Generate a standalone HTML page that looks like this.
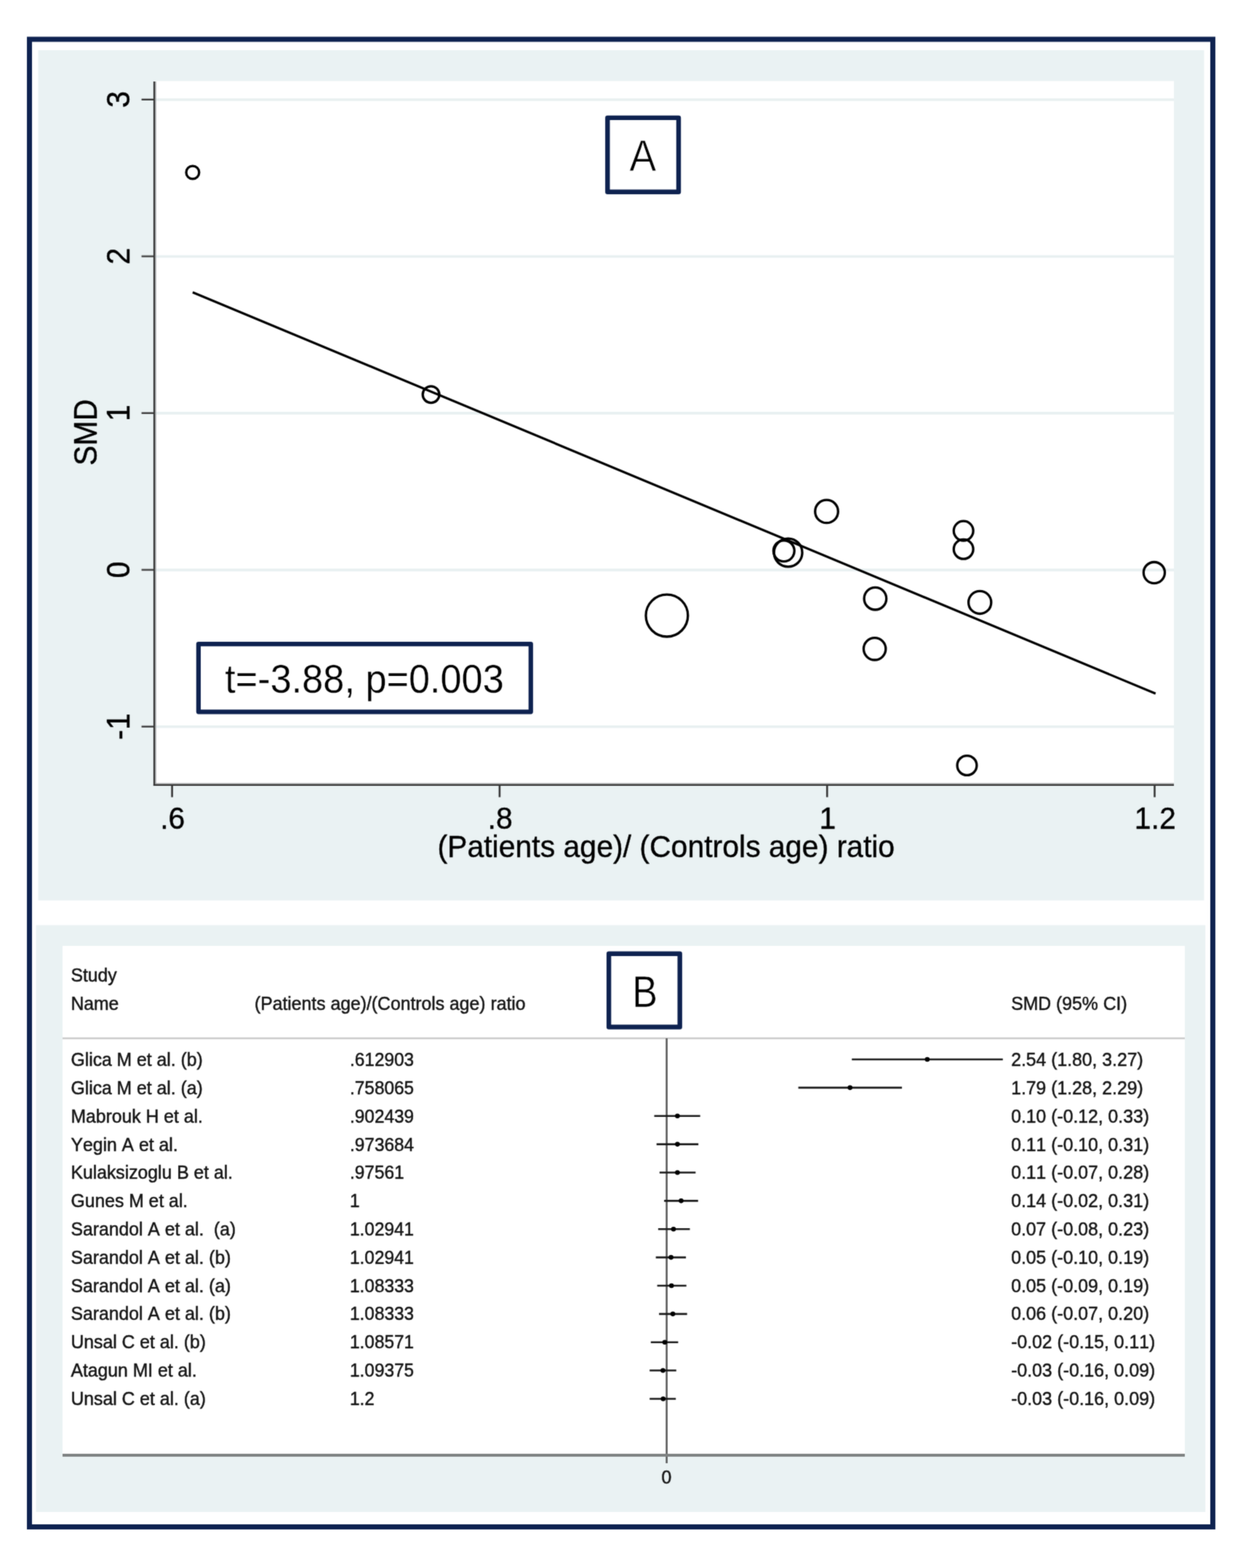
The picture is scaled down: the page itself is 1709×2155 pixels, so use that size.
<!DOCTYPE html>
<html lang="en"><head><meta charset="utf-8"><title>Meta-regression and forest plot</title>
<style>html,body{margin:0;padding:0;background:#fff;}body{width:1709px;height:2155px;overflow:hidden;}svg{display:block;}text{font-family:'Liberation Sans', Arial, Helvetica, sans-serif;font-kerning:none;white-space:pre;}</style>
</head><body>
<svg width="1709" height="2155" viewBox="0 0 1709 2155" role="img" aria-label="Meta-regression bubble plot (A) and forest plot (B)">
<defs><filter id="soft" x="0" y="0" width="1709" height="2155" filterUnits="userSpaceOnUse" color-interpolation-filters="sRGB"><feConvolveMatrix order="3" kernelMatrix="0.0256 0.1088 0.0256 0.1088 0.4624 0.1088 0.0256 0.1088 0.0256" divisor="1" edgeMode="duplicate" preserveAlpha="true"/></filter></defs>
<g filter="url(#soft)">
<rect x="0.00" y="0.00" width="1709.00" height="2155.00" fill="#ffffff"/>
<rect x="40.50" y="54.00" width="1627.00" height="2044.50" fill="#ffffff" stroke="#0e2250" stroke-width="7.00"/>
<g id="panelA">
<rect x="52.50" y="69.00" width="1603.00" height="1168.50" fill="#eaf2f3"/>
<rect x="212.30" y="111.40" width="1401.70" height="966.60" fill="#ffffff"/>
<line x1="212.30" y1="137.00" x2="1614.00" y2="137.00" stroke="#e8f0f1" stroke-width="3.60"/>
<line x1="212.30" y1="352.45" x2="1614.00" y2="352.45" stroke="#e8f0f1" stroke-width="3.60"/>
<line x1="212.30" y1="567.90" x2="1614.00" y2="567.90" stroke="#e8f0f1" stroke-width="3.60"/>
<line x1="212.30" y1="783.35" x2="1614.00" y2="783.35" stroke="#e8f0f1" stroke-width="3.60"/>
<line x1="212.30" y1="998.80" x2="1614.00" y2="998.80" stroke="#e8f0f1" stroke-width="3.60"/>
<line x1="264.90" y1="401.70" x2="1588.80" y2="953.30" stroke="#000" stroke-width="3.20"/>
<circle cx="264.9" cy="237.0" r="8.9" fill="none" stroke="#000" stroke-width="3.3"/>
<circle cx="592.6" cy="542.2" r="11.4" fill="none" stroke="#000" stroke-width="3.3"/>
<circle cx="916.9" cy="846.1" r="28.9" fill="none" stroke="#000" stroke-width="3.3"/>
<circle cx="1077.8" cy="757.2" r="14.4" fill="none" stroke="#000" stroke-width="3.3"/>
<circle cx="1083.6" cy="759.5" r="19.4" fill="none" stroke="#000" stroke-width="3.3"/>
<circle cx="1136.5" cy="702.9" r="15.8" fill="none" stroke="#000" stroke-width="3.3"/>
<circle cx="1324.7" cy="729.6" r="13.4" fill="none" stroke="#000" stroke-width="3.3"/>
<circle cx="1324.7" cy="754.8" r="13.4" fill="none" stroke="#000" stroke-width="3.3"/>
<circle cx="1203.4" cy="822.7" r="15.3" fill="none" stroke="#000" stroke-width="3.3"/>
<circle cx="1347.2" cy="827.9" r="15.6" fill="none" stroke="#000" stroke-width="3.3"/>
<circle cx="1202.6" cy="891.8" r="15.2" fill="none" stroke="#000" stroke-width="3.3"/>
<circle cx="1586.9" cy="787.1" r="14.6" fill="none" stroke="#000" stroke-width="3.3"/>
<circle cx="1329.5" cy="1052.0" r="13.4" fill="none" stroke="#000" stroke-width="3.3"/>
<line x1="213.90" y1="112.00" x2="213.90" y2="1077.80" stroke="#a4a7a8" stroke-width="1.70"/>
<line x1="213.00" y1="1077.00" x2="1614.00" y2="1077.00" stroke="#a4a7a8" stroke-width="1.70"/>
<line x1="212.00" y1="112.00" x2="212.00" y2="1080.00" stroke="#363636" stroke-width="2.20"/>
<line x1="210.90" y1="1078.90" x2="1614.00" y2="1078.90" stroke="#363636" stroke-width="2.20"/>
<line x1="194.60" y1="135.70" x2="211.00" y2="135.70" stroke="#a4a7a8" stroke-width="1.20"/>
<line x1="194.60" y1="137.00" x2="211.00" y2="137.00" stroke="#363636" stroke-width="2.00"/>
<line x1="194.60" y1="351.15" x2="211.00" y2="351.15" stroke="#a4a7a8" stroke-width="1.20"/>
<line x1="194.60" y1="352.45" x2="211.00" y2="352.45" stroke="#363636" stroke-width="2.00"/>
<line x1="194.60" y1="566.60" x2="211.00" y2="566.60" stroke="#a4a7a8" stroke-width="1.20"/>
<line x1="194.60" y1="567.90" x2="211.00" y2="567.90" stroke="#363636" stroke-width="2.00"/>
<line x1="194.60" y1="782.05" x2="211.00" y2="782.05" stroke="#a4a7a8" stroke-width="1.20"/>
<line x1="194.60" y1="783.35" x2="211.00" y2="783.35" stroke="#363636" stroke-width="2.00"/>
<line x1="194.60" y1="997.50" x2="211.00" y2="997.50" stroke="#a4a7a8" stroke-width="1.20"/>
<line x1="194.60" y1="998.80" x2="211.00" y2="998.80" stroke="#363636" stroke-width="2.00"/>
<line x1="236.60" y1="1079.50" x2="236.60" y2="1095.60" stroke="#363636" stroke-width="2.60"/>
<line x1="686.90" y1="1079.50" x2="686.90" y2="1095.60" stroke="#363636" stroke-width="2.60"/>
<line x1="1137.20" y1="1079.50" x2="1137.20" y2="1095.60" stroke="#363636" stroke-width="2.60"/>
<line x1="1587.50" y1="1079.50" x2="1587.50" y2="1095.60" stroke="#363636" stroke-width="2.60"/>
<g stroke="#000" stroke-width="0.4">
<text transform="translate(178.40 136.70) rotate(-90) scale(1.0000 1.0650)" font-size="41.00" text-anchor="middle" fill="#000" xml:space="preserve">3</text>
<text transform="translate(178.40 352.15) rotate(-90) scale(1.0000 1.0650)" font-size="41.00" text-anchor="middle" fill="#000" xml:space="preserve">2</text>
<text transform="translate(178.40 567.60) rotate(-90) scale(1.0000 1.0650)" font-size="41.00" text-anchor="middle" fill="#000" xml:space="preserve">1</text>
<text transform="translate(178.40 783.05) rotate(-90) scale(1.0000 1.0650)" font-size="41.00" text-anchor="middle" fill="#000" xml:space="preserve">0</text>
<text transform="translate(178.40 998.50) rotate(-90) scale(1.0000 1.0650)" font-size="41.00" text-anchor="middle" fill="#000" xml:space="preserve">-1</text>
<text transform="translate(133.30 594.20) rotate(-90) scale(1.0000 1.0650)" font-size="41.00" text-anchor="middle" fill="#000" xml:space="preserve">SMD</text>
<text transform="translate(237.30 1139.20) scale(1.0000 1.0400)" font-size="41.00" text-anchor="middle" fill="#000" xml:space="preserve">.6</text>
<text transform="translate(687.60 1139.20) scale(1.0000 1.0400)" font-size="41.00" text-anchor="middle" fill="#000" xml:space="preserve">.8</text>
<text transform="translate(1137.90 1139.20) scale(1.0000 1.0400)" font-size="41.00" text-anchor="middle" fill="#000" xml:space="preserve">1</text>
<text transform="translate(1588.20 1139.20) scale(1.0000 1.0400)" font-size="41.00" text-anchor="middle" fill="#000" xml:space="preserve">1.2</text>
<text transform="translate(915.80 1178.30) scale(1.0000 1.0400)" font-size="41.00" text-anchor="middle" fill="#000" xml:space="preserve">(Patients age)/ (Controls age) ratio</text>
</g>
<rect x="835.30" y="161.90" width="97.70" height="101.80" fill="#fff" stroke="#0e2250" stroke-width="6.40" stroke-linejoin="round"/>
<text transform="translate(883.80 234.90) scale(0.9600 1.0550)" font-size="58.00" text-anchor="middle" fill="#000" stroke="#fff" stroke-width="0.9" xml:space="preserve">A</text>
<rect x="272.90" y="885.10" width="456.90" height="93.20" fill="#fff" stroke="#0e2250" stroke-width="6.20" stroke-linejoin="round"/>
<text transform="translate(501.00 952.30) scale(0.9500 1.0000)" font-size="55.00" text-anchor="middle" fill="#000" stroke="#fff" stroke-width="0.3" xml:space="preserve">t=-3.88, p=0.003</text>
</g>
<g id="panelB" stroke="#141414" stroke-width="0.5">
<rect x="49.50" y="1271.50" width="1607.80" height="806.50" fill="#eaf2f3" stroke="none"/>
<rect x="86.00" y="1300.00" width="1543.00" height="700.00" fill="#ffffff" stroke="none"/>
<line x1="86.00" y1="1427.00" x2="1629.00" y2="1427.00" stroke="#cbcbcb" stroke-width="2.60"/>
<line x1="916.60" y1="1427.00" x2="916.60" y2="2011.00" stroke="#555555" stroke-width="2.50"/>
<line x1="86.00" y1="2000.10" x2="1629.00" y2="2000.10" stroke="#7f8282" stroke-width="4.00"/>
<text transform="translate(916.40 2039.20) scale(1.0000 1.0450)" font-size="24.75" text-anchor="middle" fill="#141414" xml:space="preserve">0</text>
<text transform="translate(97.40 1349.30) scale(1.0000 1.0450)" font-size="24.75" fill="#141414" xml:space="preserve">Study</text>
<text transform="translate(97.40 1388.20) scale(1.0000 1.0450)" font-size="24.75" fill="#141414" xml:space="preserve">Name</text>
<text transform="translate(350.00 1388.20) scale(1.0000 1.0450)" font-size="24.75" fill="#141414" xml:space="preserve">(Patients age)/(Controls age) ratio</text>
<text transform="translate(1390.20 1387.70) scale(1.0000 1.0450)" font-size="24.75" fill="#141414" xml:space="preserve">SMD (95% CI)</text>
<text transform="translate(97.40 1465.30) scale(1.0000 1.0450)" font-size="24.75" fill="#141414" xml:space="preserve">Glica M et al. (b)</text>
<text transform="translate(481.00 1465.30) scale(0.9850 1.0450)" font-size="24.75" fill="#141414" xml:space="preserve">.612903</text>
<text transform="translate(1390.20 1465.30) scale(1.0000 1.0450)" font-size="24.75" fill="#141414" xml:space="preserve">2.54 (1.80, 3.27)</text>
<line x1="1171.20" y1="1456.00" x2="1378.80" y2="1456.00" stroke="#1a1a1a" stroke-width="2.60"/>
<circle cx="1274.9" cy="1456.00" r="3.3" fill="#000" stroke="none"/>
<text transform="translate(97.40 1504.09) scale(1.0000 1.0450)" font-size="24.75" fill="#141414" xml:space="preserve">Glica M et al. (a)</text>
<text transform="translate(481.00 1504.09) scale(0.9850 1.0450)" font-size="24.75" fill="#141414" xml:space="preserve">.758065</text>
<text transform="translate(1390.20 1504.09) scale(1.0000 1.0450)" font-size="24.75" fill="#141414" xml:space="preserve">1.79 (1.28, 2.29)</text>
<line x1="1097.60" y1="1494.87" x2="1240.10" y2="1494.87" stroke="#1a1a1a" stroke-width="2.60"/>
<circle cx="1168.7" cy="1494.87" r="3.3" fill="#000" stroke="none"/>
<text transform="translate(97.40 1542.88) scale(1.0000 1.0450)" font-size="24.75" fill="#141414" xml:space="preserve">Mabrouk H et al.</text>
<text transform="translate(481.00 1542.88) scale(0.9850 1.0450)" font-size="24.75" fill="#141414" xml:space="preserve">.902439</text>
<text transform="translate(1390.20 1542.88) scale(1.0000 1.0450)" font-size="24.75" fill="#141414" xml:space="preserve">0.10 (-0.12, 0.33)</text>
<line x1="899.50" y1="1533.74" x2="962.70" y2="1533.74" stroke="#1a1a1a" stroke-width="2.60"/>
<circle cx="931.4" cy="1533.74" r="3.3" fill="#000" stroke="none"/>
<text transform="translate(97.40 1581.67) scale(1.0000 1.0450)" font-size="24.75" fill="#141414" xml:space="preserve">Yegin A et al.</text>
<text transform="translate(481.00 1581.67) scale(0.9850 1.0450)" font-size="24.75" fill="#141414" xml:space="preserve">.973684</text>
<text transform="translate(1390.20 1581.67) scale(1.0000 1.0450)" font-size="24.75" fill="#141414" xml:space="preserve">0.11 (-0.10, 0.31)</text>
<line x1="902.70" y1="1572.61" x2="960.20" y2="1572.61" stroke="#1a1a1a" stroke-width="2.60"/>
<circle cx="931.4" cy="1572.61" r="3.3" fill="#000" stroke="none"/>
<text transform="translate(97.40 1620.46) scale(1.0000 1.0450)" font-size="24.75" fill="#141414" xml:space="preserve">Kulaksizoglu B et al.</text>
<text transform="translate(481.00 1620.46) scale(0.9850 1.0450)" font-size="24.75" fill="#141414" xml:space="preserve">.97561</text>
<text transform="translate(1390.20 1620.46) scale(1.0000 1.0450)" font-size="24.75" fill="#141414" xml:space="preserve">0.11 (-0.07, 0.28)</text>
<line x1="906.80" y1="1611.48" x2="956.40" y2="1611.48" stroke="#1a1a1a" stroke-width="2.60"/>
<circle cx="931.4" cy="1611.48" r="3.3" fill="#000" stroke="none"/>
<text transform="translate(97.40 1659.25) scale(1.0000 1.0450)" font-size="24.75" fill="#141414" xml:space="preserve">Gunes M et al.</text>
<text transform="translate(481.00 1659.25) scale(0.9850 1.0450)" font-size="24.75" fill="#141414" xml:space="preserve">1</text>
<text transform="translate(1390.20 1659.25) scale(1.0000 1.0450)" font-size="24.75" fill="#141414" xml:space="preserve">0.14 (-0.02, 0.31)</text>
<line x1="913.10" y1="1650.35" x2="959.80" y2="1650.35" stroke="#1a1a1a" stroke-width="2.60"/>
<circle cx="936.5" cy="1650.35" r="3.3" fill="#000" stroke="none"/>
<text transform="translate(97.40 1698.04) scale(1.0000 1.0450)" font-size="24.75" fill="#141414" xml:space="preserve">Sarandol A et al.  (a)</text>
<text transform="translate(481.00 1698.04) scale(0.9850 1.0450)" font-size="24.75" fill="#141414" xml:space="preserve">1.02941</text>
<text transform="translate(1390.20 1698.04) scale(1.0000 1.0450)" font-size="24.75" fill="#141414" xml:space="preserve">0.07 (-0.08, 0.23)</text>
<line x1="904.90" y1="1689.22" x2="948.50" y2="1689.22" stroke="#1a1a1a" stroke-width="2.60"/>
<circle cx="926.0" cy="1689.22" r="3.3" fill="#000" stroke="none"/>
<text transform="translate(97.40 1736.83) scale(1.0000 1.0450)" font-size="24.75" fill="#141414" xml:space="preserve">Sarandol A et al. (b)</text>
<text transform="translate(481.00 1736.83) scale(0.9850 1.0450)" font-size="24.75" fill="#141414" xml:space="preserve">1.02941</text>
<text transform="translate(1390.20 1736.83) scale(1.0000 1.0450)" font-size="24.75" fill="#141414" xml:space="preserve">0.05 (-0.10, 0.19)</text>
<line x1="901.70" y1="1728.09" x2="943.10" y2="1728.09" stroke="#1a1a1a" stroke-width="2.60"/>
<circle cx="922.6" cy="1728.09" r="3.3" fill="#000" stroke="none"/>
<text transform="translate(97.40 1775.62) scale(1.0000 1.0450)" font-size="24.75" fill="#141414" xml:space="preserve">Sarandol A et al. (a)</text>
<text transform="translate(481.00 1775.62) scale(0.9850 1.0450)" font-size="24.75" fill="#141414" xml:space="preserve">1.08333</text>
<text transform="translate(1390.20 1775.62) scale(1.0000 1.0450)" font-size="24.75" fill="#141414" xml:space="preserve">0.05 (-0.09, 0.19)</text>
<line x1="903.60" y1="1766.96" x2="943.70" y2="1766.96" stroke="#1a1a1a" stroke-width="2.60"/>
<circle cx="923.2" cy="1766.96" r="3.3" fill="#000" stroke="none"/>
<text transform="translate(97.40 1814.41) scale(1.0000 1.0450)" font-size="24.75" fill="#141414" xml:space="preserve">Sarandol A et al. (b)</text>
<text transform="translate(481.00 1814.41) scale(0.9850 1.0450)" font-size="24.75" fill="#141414" xml:space="preserve">1.08333</text>
<text transform="translate(1390.20 1814.41) scale(1.0000 1.0450)" font-size="24.75" fill="#141414" xml:space="preserve">0.06 (-0.07, 0.20)</text>
<line x1="906.10" y1="1805.83" x2="944.70" y2="1805.83" stroke="#1a1a1a" stroke-width="2.60"/>
<circle cx="925.1" cy="1805.83" r="3.3" fill="#000" stroke="none"/>
<text transform="translate(97.40 1853.20) scale(1.0000 1.0450)" font-size="24.75" fill="#141414" xml:space="preserve">Unsal C et al. (b)</text>
<text transform="translate(481.00 1853.20) scale(0.9850 1.0450)" font-size="24.75" fill="#141414" xml:space="preserve">1.08571</text>
<text transform="translate(1390.20 1853.20) scale(1.0000 1.0450)" font-size="24.75" fill="#141414" xml:space="preserve">-0.02 (-0.15, 0.11)</text>
<line x1="894.80" y1="1844.70" x2="932.40" y2="1844.70" stroke="#1a1a1a" stroke-width="2.60"/>
<circle cx="914.0" cy="1844.70" r="3.3" fill="#000" stroke="none"/>
<text transform="translate(97.40 1891.99) scale(1.0000 1.0450)" font-size="24.75" fill="#141414" xml:space="preserve">Atagun MI et al.</text>
<text transform="translate(481.00 1891.99) scale(0.9850 1.0450)" font-size="24.75" fill="#141414" xml:space="preserve">1.09375</text>
<text transform="translate(1390.20 1891.99) scale(1.0000 1.0450)" font-size="24.75" fill="#141414" xml:space="preserve">-0.03 (-0.16, 0.09)</text>
<line x1="893.20" y1="1883.57" x2="929.80" y2="1883.57" stroke="#1a1a1a" stroke-width="2.60"/>
<circle cx="911.5" cy="1883.57" r="3.3" fill="#000" stroke="none"/>
<text transform="translate(97.40 1930.78) scale(1.0000 1.0450)" font-size="24.75" fill="#141414" xml:space="preserve">Unsal C et al. (a)</text>
<text transform="translate(481.00 1930.78) scale(0.9850 1.0450)" font-size="24.75" fill="#141414" xml:space="preserve">1.2</text>
<text transform="translate(1390.20 1930.78) scale(1.0000 1.0450)" font-size="24.75" fill="#141414" xml:space="preserve">-0.03 (-0.16, 0.09)</text>
<line x1="893.20" y1="1922.44" x2="929.20" y2="1922.44" stroke="#1a1a1a" stroke-width="2.60"/>
<circle cx="911.8" cy="1922.44" r="3.3" fill="#000" stroke="none"/>
<rect x="837.10" y="1310.80" width="97.60" height="100.70" fill="#fff" stroke="#0e2250" stroke-width="6.40" stroke-linejoin="round"/>
<text transform="translate(886.60 1384.00) scale(0.8700 1.0100)" font-size="60.00" text-anchor="middle" fill="#000" stroke="#fff" stroke-width="0.6" xml:space="preserve">B</text>
</g>
</g>
</svg>
</body></html>
